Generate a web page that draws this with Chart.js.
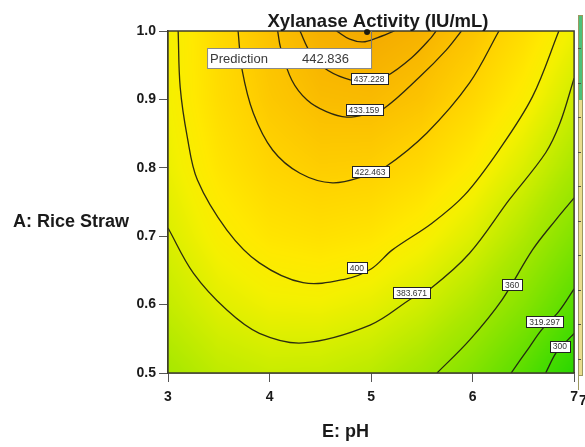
<!DOCTYPE html>
<html>
<head>
<meta charset="utf-8">
<script src="https://cdn.jsdelivr.net/npm/chart.js@4/dist/chart.umd.min.js"></script>
<style>
  html, body { margin: 0; padding: 0; background: #ffffff; }
  #wrap { width: 585px; height: 447px; position: relative; }
</style>
</head>
<body>
<div id="wrap"><canvas id="chart" width="585" height="447"></canvas></div>
<script>
// Predicted xylanase activity (IU/mL) over E: pH and A: rice straw
const phGrid = [3, 3.5, 4, 4.5, 5, 5.5, 6, 6.5, 7];
const strawGrid = [0.5, 0.6, 0.7, 0.8, 0.9, 1.0];
// one row per rice straw level (0.5 .. 1.0), one value per pH level
const activityRow05 = [357, 369, 374, 373, 367, 354, 335, 310, 278];
const activityRow06 = [372, 386, 393, 394, 389, 378, 361, 338, 309];
const activityRow07 = [383, 399, 408, 411, 408, 399, 384, 362, 335];
const activityRow08 = [391, 408, 419, 424, 423, 416, 403, 383, 358];
const activityRow09 = [395, 414, 427, 434, 435, 430, 418, 401, 377];
const activityRow10 = [395, 416, 431, 440, 443, 439, 430, 414, 393];

// contour lines, [pH, rice straw] pairs
const contour300 = [[6.72, 0.50], [6.82, 0.529], [6.91, 0.544], [7.0, 0.558]];
const contour319 = [[6.38, 0.50], [6.56, 0.538], [6.68, 0.563], [6.85, 0.590], [7.0, 0.623]];
const contour360 = [[5.65, 0.50], [5.97, 0.548], [6.29, 0.607], [6.59, 0.680], [6.82, 0.724], [7.0, 0.756]];
const contour383 = [[3.0, 0.712], [3.25, 0.646], [3.58, 0.592], [3.90, 0.558], [4.33, 0.544], [4.99, 0.570],
                    [5.41, 0.610], [5.59, 0.624], [5.97, 0.675], [6.36, 0.753], [6.72, 0.822], [6.86, 0.865], [7.0, 0.931]];
const contour400 = [[3.10, 1.0], [3.12, 0.918], [3.19, 0.845], [3.29, 0.782], [3.58, 0.709], [3.90, 0.661],
                    [4.33, 0.632], [4.74, 0.637], [5.0, 0.652], [5.21, 0.680], [5.60, 0.719], [5.92, 0.760],
                    [6.26, 0.826], [6.59, 0.904], [6.85, 1.0]];
const contour422 = [[3.69, 1.0], [3.73, 0.943], [3.84, 0.880], [4.03, 0.826], [4.30, 0.792], [4.62, 0.778],
                    [4.94, 0.788], [5.13, 0.800], [5.55, 0.851], [5.97, 0.924], [6.26, 1.0]];
const contour433 = [[4.08, 1.0], [4.11, 0.975], [4.22, 0.928], [4.37, 0.899], [4.56, 0.882], [4.76, 0.874],
                    [4.97, 0.879], [5.13, 0.887], [5.48, 0.933], [5.74, 0.972], [5.89, 1.0]];
const contour437 = [[4.30, 1.0], [4.40, 0.969], [4.54, 0.946], [4.74, 0.931], [4.94, 0.925], [5.15, 0.934],
                    [5.40, 0.961], [5.59, 0.990], [5.64, 1.0]];
const contour441 = [[4.66, 1.0], [4.79, 0.988], [4.92, 0.984], [5.06, 0.990], [5.23, 1.0]];

const contourLevels = ['300', '319.297', '360', '383.671', '400', '422.463', '433.159', '437.228', ''];
const contourPaths = [contour300, contour319, contour360, contour383, contour400, contour422, contour433, contour437, contour441];

const predictionPH = 5;
const predictionStraw = 1.0;
const predictionValue = '442.836';

const xTickValues = [3, 4, 5, 6, 7];
const yTickValues = [0.5, 0.6, 0.7, 0.8, 0.9, 1.0];

const activityGrid = [activityRow05, activityRow06, activityRow07, activityRow08, activityRow09, activityRow10];

// where each contour tag sits, in axis units
const tagAnchors = [[6.86, 0.539], [6.71, 0.575], [6.39, 0.629], [5.40, 0.617], [4.86, 0.654],
                    [4.99, 0.794], [4.93, 0.885], [4.98, 0.930], null];

// colour ramp: activity -> rgb
const rampStops = [
  [270, [30, 212, 0]], [300, [72, 220, 0]], [330, [122, 226, 0]], [360, [172, 232, 0]],
  [380, [212, 238, 0]], [395, [244, 240, 0]], [405, [255, 233, 0]], [420, [255, 212, 0]],
  [432, [251, 192, 0]], [443, [244, 170, 0]]
];

const FONT = '"Liberation Sans", Arial, Helvetica, sans-serif';

function sampleGrid(px, py) {
  const nx = phGrid.length, ny = strawGrid.length;
  px = Math.min(Math.max(px, phGrid[0]), phGrid[nx - 1]);
  py = Math.min(Math.max(py, strawGrid[0]), strawGrid[ny - 1]);
  let i = 0; while (i < nx - 2 && px > phGrid[i + 1]) i++;
  let j = 0; while (j < ny - 2 && py > strawGrid[j + 1]) j++;
  const tx = (px - phGrid[i]) / (phGrid[i + 1] - phGrid[i]);
  const ty = (py - strawGrid[j]) / (strawGrid[j + 1] - strawGrid[j]);
  const a = activityGrid[j][i], b = activityGrid[j][i + 1];
  const c = activityGrid[j + 1][i], d = activityGrid[j + 1][i + 1];
  return (a * (1 - tx) + b * tx) * (1 - ty) + (c * (1 - tx) + d * tx) * ty;
}

function rampColour(v) {
  if (v <= rampStops[0][0]) return rampStops[0][1];
  for (let k = 1; k < rampStops.length; k++) {
    if (v <= rampStops[k][0]) {
      const [v0, c0] = rampStops[k - 1], [v1, c1] = rampStops[k];
      const t = (v - v0) / (v1 - v0);
      return [0, 1, 2].map(n => c0[n] + (c1[n] - c0[n]) * t);
    }
  }
  return rampStops[rampStops.length - 1][1];
}

// shaded response surface behind the contour lines
const surfacePlugin = {
  id: 'surface',
  beforeDatasetsDraw(chart) {
    const { ctx, chartArea: a, scales: { x, y } } = chart;
    const w = Math.round(a.right - a.left), h = Math.round(a.bottom - a.top);
    const off = document.createElement('canvas');
    off.width = w; off.height = h;
    const octx = off.getContext('2d');
    const img = octx.createImageData(w, h);
    for (let j = 0; j < h; j++) {
      const yv = y.getValueForPixel(a.top + j + 0.5);
      for (let i = 0; i < w; i++) {
        const xv = x.getValueForPixel(a.left + i + 0.5);
        const c = rampColour(sampleGrid(xv, yv));
        const k = (j * w + i) * 4;
        img.data[k] = c[0]; img.data[k + 1] = c[1]; img.data[k + 2] = c[2]; img.data[k + 3] = 255;
      }
    }
    octx.putImageData(img, 0, 0);
    ctx.drawImage(off, a.left, a.top);
  }
};

// frame, contour tags and prediction flag
const annotatePlugin = {
  id: 'annotate',
  afterDatasetsDraw(chart) {
    const { ctx, chartArea: a, scales: { x, y } } = chart;
    ctx.save();
    ctx.strokeStyle = '#3d3d2c';
    ctx.lineWidth = 1.5;
    ctx.strokeRect(a.left, a.top, a.right - a.left, a.bottom - a.top);

    ctx.font = '8.5px ' + FONT;
    ctx.textAlign = 'center';
    ctx.textBaseline = 'middle';
    contourLevels.forEach((txt, n) => {
      const anc = tagAnchors[n];
      if (!txt || !anc) return;
      const cx = x.getPixelForValue(anc[0]), cy = y.getPixelForValue(anc[1]);
      const tw = ctx.measureText(txt).width + 6, th = 11;
      ctx.fillStyle = '#ffffff';
      ctx.fillRect(Math.round(cx - tw / 2) + 0.5, Math.round(cy - th / 2) + 0.5, Math.round(tw), th);
      ctx.strokeStyle = '#222222';
      ctx.lineWidth = 1;
      ctx.strokeRect(Math.round(cx - tw / 2) + 0.5, Math.round(cy - th / 2) + 0.5, Math.round(tw), th);
      ctx.fillStyle = '#333333';
      ctx.fillText(txt, cx, cy + 0.5);
    });

    // prediction flag at the design point
    const px = x.getPixelForValue(predictionPH), py = y.getPixelForValue(predictionStraw);
    ctx.strokeStyle = '#777777';
    ctx.lineWidth = 1;
    ctx.beginPath(); ctx.moveTo(px + 0.5, py); ctx.lineTo(px + 0.5, py + 17); ctx.stroke();
    ctx.fillStyle = '#1c1c10';
    ctx.beginPath(); ctx.arc(px - 4, py + 1, 3, 0, Math.PI * 2); ctx.fill();
    const bx = px - 164, by = py + 17, bw = 164, bh = 20;
    ctx.fillStyle = '#ffffff';
    ctx.fillRect(bx + 0.5, by + 0.5, bw, bh);
    ctx.strokeStyle = '#8a8a8a';
    ctx.strokeRect(bx + 0.5, by + 0.5, bw, bh);
    ctx.fillStyle = '#3a3a3a';
    ctx.font = '13px ' + FONT;
    ctx.textAlign = 'left';
    ctx.textBaseline = 'middle';
    ctx.fillText('Prediction', bx + 3, by + bh / 2 + 1);
    ctx.fillText(predictionValue, bx + 95, by + bh / 2 + 1);
    ctx.restore();
  },
  afterDraw(chart) {
    const { ctx } = chart;
    ctx.save();
    ctx.fillStyle = '#1a1a1a';
    ctx.font = 'bold 18.5px ' + FONT;
    ctx.textAlign = 'center';
    ctx.textBaseline = 'alphabetic';
    ctx.fillText('Xylanase Activity (IU/mL)', 378, 27);
    ctx.font = 'bold 18px ' + FONT;
    ctx.textAlign = 'left';
    ctx.fillText('A: Rice Straw', 13, 227);
    ctx.fillText('E: pH', 322, 437);

    // edge of the neighbouring colour key
    ctx.fillStyle = '#e9de8e';
    ctx.fillRect(578, 100, 5, 275);
    ctx.fillStyle = '#4cc27a';
    ctx.fillRect(578, 15, 5, 85);
    ctx.strokeStyle = '#9c9860';
    ctx.lineWidth = 1;
    ctx.strokeRect(578.5, 15.5, 4, 360);
    ctx.beginPath();
    ctx.moveTo(578.5, 375); ctx.lineTo(578.5, 390);
    ctx.stroke();
    ctx.strokeStyle = '#555544';
    for (let t = 48; t < 375; t += 34.5) {
      ctx.beginPath(); ctx.moveTo(578, Math.round(t) + 0.5); ctx.lineTo(581, Math.round(t) + 0.5); ctx.stroke();
    }
    ctx.fillStyle = '#1a1a1a';
    ctx.font = 'bold 14px ' + FONT;
    ctx.textAlign = 'left';
    ctx.fillText('7', 579, 405);
    ctx.restore();
  }
};

const datasets = contourPaths.map((path, n) => ({
  label: contourLevels[n] || 'contour',
  data: path.map(p => ({ x: p[0], y: p[1] })),
  showLine: true,
  fill: false,
  borderColor: 'rgba(28,28,16,0.92)',
  borderWidth: 1.3,
  pointRadius: 0,
  tension: 0.35
}));

new Chart(document.getElementById('chart'), {
  type: 'scatter',
  data: { datasets },
  options: {
    responsive: false,
    animation: false,
    devicePixelRatio: 1,
    layout: { padding: { top: 31, right: 10, left: 0, bottom: 0 } },
    plugins: { legend: { display: false }, tooltip: { enabled: false }, title: { display: false } },
    scales: {
      x: {
        type: 'linear', min: 3, max: 7,
        afterFit: s => { s.height = 74; },
        afterBuildTicks: s => { s.ticks = xTickValues.map(v => ({ value: v })); },
        ticks: { color: '#1a1a1a', font: { family: FONT, size: 14, weight: 'bold' }, padding: 7,
                 callback: v => String(v), maxRotation: 0 },
        grid: { drawOnChartArea: false, drawTicks: true, tickLength: 9, color: '#555555' },
        border: { display: true, color: '#3d3d2c', width: 1.5 }
      },
      y: {
        type: 'linear', min: 0.5, max: 1.0,
        afterFit: s => { s.width = 168; },
        afterBuildTicks: s => { s.ticks = yTickValues.map(v => ({ value: v })); },
        ticks: { color: '#1a1a1a', font: { family: FONT, size: 14, weight: 'bold' }, padding: 3,
                 callback: v => Number(v).toFixed(1) },
        grid: { drawOnChartArea: false, drawTicks: true, tickLength: 9, color: '#555555' },
        border: { display: true, color: '#3d3d2c', width: 1.5 }
      }
    }
  },
  plugins: [surfacePlugin, annotatePlugin]
});
</script>
</body>
</html>
